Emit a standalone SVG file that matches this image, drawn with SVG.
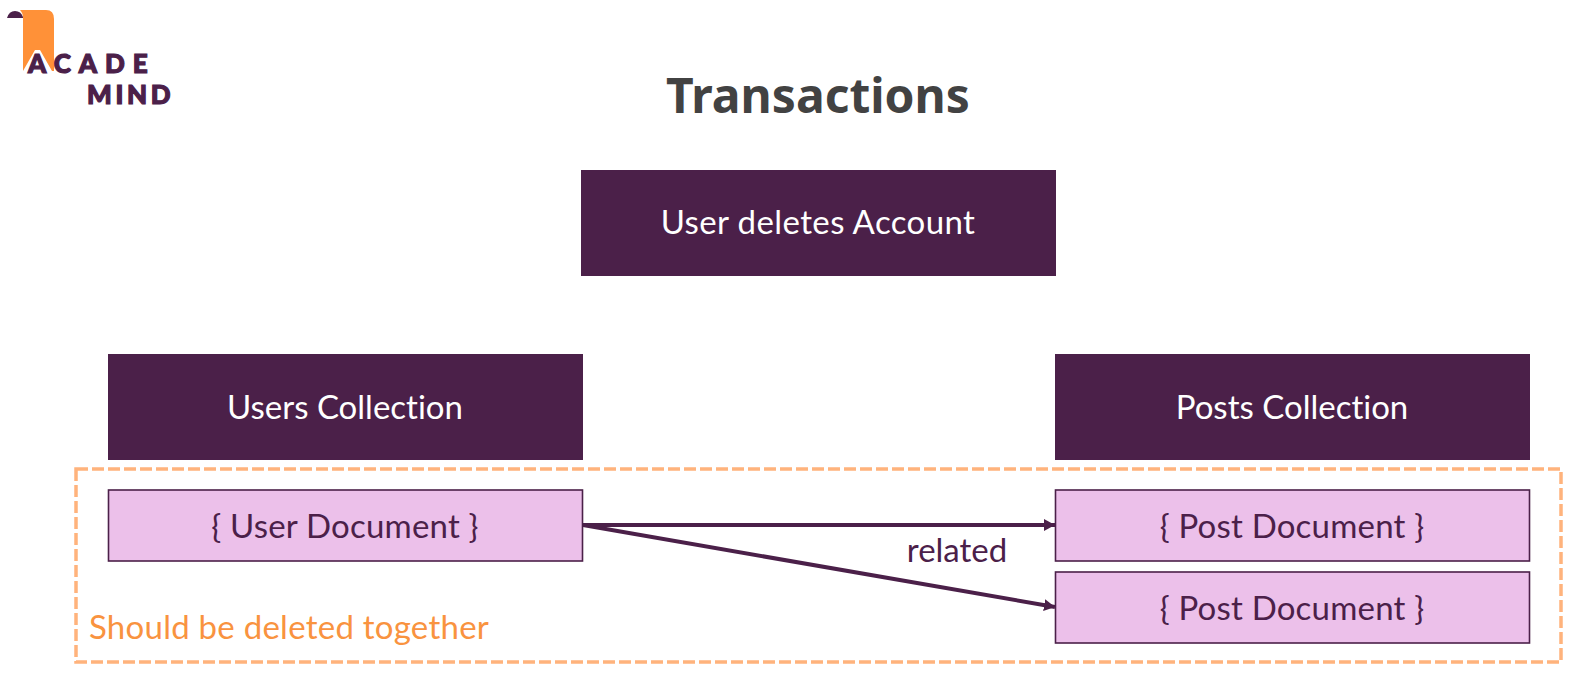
<svg xmlns="http://www.w3.org/2000/svg" width="1580" height="677" viewBox="0 0 1580 677">
<style>
text{font-family:"Lato","Open Sans","Liberation Sans",sans-serif;font-variant-ligatures:none}
.dark{fill:#4b2049}
.doc{fill:#ecc0ea;stroke:#4b2049;stroke-width:1.6}
.lbl{font-size:33px;text-anchor:middle}
.w{fill:#fff}
.p{fill:#4b2049}
.conn{stroke:#4b2049;stroke-width:4;fill:none;marker-end:url(#arrow)}
.logo{font-weight:900;fill:#4b2049;stroke:#4b2049;stroke-width:1.2;font-size:26px}
</style>
<defs>
<marker id="arrow" markerUnits="userSpaceOnUse" markerWidth="12" markerHeight="12" refX="11" refY="6" orient="auto"><path d="M0 0L11 6L0 12z" fill="#4b2049"/></marker>
</defs>
<rect width="1580" height="677" fill="#fff"/>
<g id="logo">
<path d="M7 18Q9 11 15 11Q21 11 23 17L23 18Z" fill="#4b2049"/>
<path d="M20 10H46Q54 10 54 19V71H52L40 50H35L23 71V18Q23 13 20 10Z" fill="#ff9138"/>
<text class="logo" x="28" y="73" letter-spacing="8">ACADE</text>
<text class="logo" x="87" y="104" letter-spacing="3.700">MIND</text>
</g>
<text id="title" x="818" y="113" font-size="48" font-weight="700" text-anchor="middle" fill="#424242" style="font-family:'Noto Sans','Open Sans',sans-serif">Transactions</text>
<g id="dashed-group">
<rect x="76" y="469" width="1485" height="193" fill="none" stroke="#ffb37c" stroke-width="3.5" stroke-dasharray="12 4"/>
<text x="89" y="639" font-size="33" letter-spacing="0.250" fill="#f9933f">Should be deleted together</text>
</g>
<g id="account"><rect class="dark" x="581" y="170" width="475" height="106"/><text class="lbl w" x="818" y="234" letter-spacing="0.400">User deletes Account</text></g>
<g id="users"><rect class="dark" x="108" y="354" width="475" height="106"/><text class="lbl w" x="345" y="419">Users Collection</text></g>
<g id="posts"><rect class="dark" x="1055" y="354" width="475" height="106"/><text class="lbl w" x="1292" y="419">Posts Collection</text></g>
<g id="user-doc"><rect class="doc" x="108.500" y="490" width="474" height="71"/><text class="lbl p" x="345" y="538" letter-spacing="0.200">{ User Document }</text></g>
<g id="post-doc-1"><rect class="doc" x="1055.500" y="490" width="474" height="71"/><text class="lbl p" x="1292" y="538" letter-spacing="0.200">{ Post Document }</text></g>
<g id="post-doc-2"><rect class="doc" x="1055.500" y="572" width="474" height="71"/><text class="lbl p" x="1292" y="620" letter-spacing="0.200">{ Post Document }</text></g>
<g id="connectors">
<line class="conn" x1="583" y1="525" x2="1055" y2="525"/>
<line class="conn" x1="583" y1="525" x2="1055" y2="607"/>
</g>
<text id="related" x="957" y="562" font-size="33" text-anchor="middle" fill="#4b2049">related</text>
</svg>
